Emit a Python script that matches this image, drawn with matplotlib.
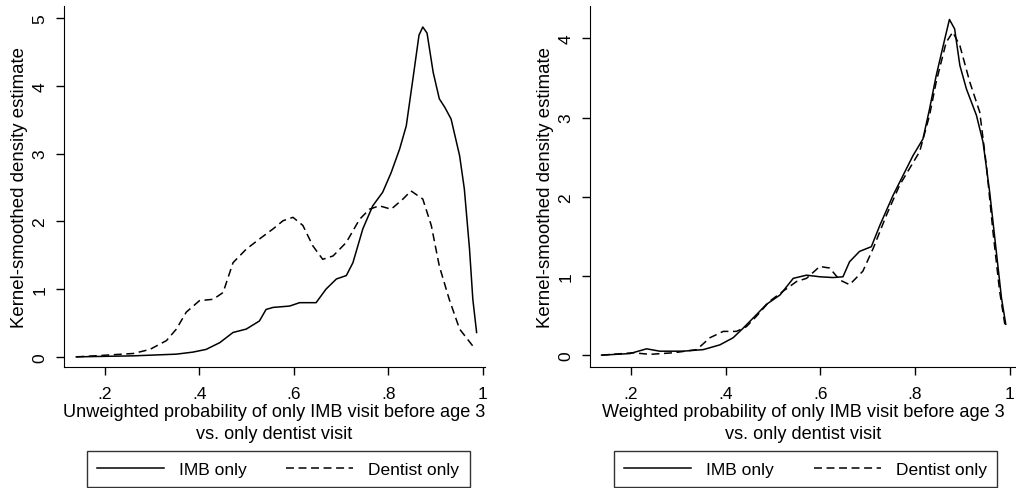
import matplotlib
matplotlib.use('Agg')
import matplotlib.pyplot as plt

plt.rcParams['font.family'] = ['Liberation Sans', 'DejaVu Sans']

# left panel: unweighted
unw_imb_x = [0.139, 0.26, 0.351, 0.386, 0.414, 0.443, 0.471, 0.499, 0.527, 0.541, 0.556,
             0.591, 0.612, 0.647, 0.668, 0.69, 0.711, 0.725, 0.746, 0.767, 0.788, 0.806,
             0.824, 0.838, 0.852, 0.865, 0.873, 0.882, 0.895, 0.908, 0.92, 0.933, 0.951,
             0.961, 0.972, 0.979, 0.987]
unw_imb_y = [0.0, 0.015, 0.04, 0.07, 0.11, 0.21, 0.36, 0.41, 0.53, 0.70, 0.73,
             0.75, 0.80, 0.80, 1.0, 1.15, 1.20, 1.39, 1.89, 2.23, 2.43, 2.72,
             3.07, 3.41, 4.1, 4.75, 4.87, 4.78, 4.2, 3.81, 3.68, 3.51, 2.97,
             2.48, 1.59, 0.85, 0.36]
unw_den_x = [0.139, 0.19, 0.26, 0.295, 0.33, 0.351, 0.372, 0.40, 0.429, 0.45, 0.471,
             0.499, 0.527, 0.556, 0.577, 0.598, 0.619, 0.64, 0.661, 0.683, 0.711, 0.739,
             0.76, 0.781, 0.806, 0.831, 0.848, 0.873, 0.891, 0.908, 0.929, 0.951, 0.979]
unw_den_y = [0.0, 0.02, 0.05, 0.11, 0.24, 0.41, 0.66, 0.83, 0.85, 0.95, 1.39,
             1.59, 1.74, 1.89, 2.01, 2.06, 1.94, 1.64, 1.44, 1.49, 1.69, 2.03,
             2.18, 2.23, 2.18, 2.33, 2.45, 2.33, 1.94, 1.34, 0.85, 0.41, 0.16]

# right panel: weighted
w_imb_x = [0.138, 0.198, 0.233, 0.261, 0.31, 0.353, 0.388, 0.416, 0.437, 0.465, 0.486,
           0.515, 0.543, 0.571, 0.599, 0.627, 0.648, 0.662, 0.683, 0.708, 0.726, 0.754,
           0.775, 0.796, 0.817, 0.831, 0.845, 0.863, 0.873, 0.884, 0.895, 0.909, 0.93,
           0.944, 0.958, 0.972, 0.983, 0.992]
w_imb_y = [0.0, 0.02, 0.08, 0.05, 0.05, 0.07, 0.13, 0.22, 0.34, 0.51, 0.64,
           0.76, 0.97, 1.01, 0.99, 0.98, 0.99, 1.18, 1.31, 1.37, 1.64, 2.02,
           2.27, 2.52, 2.73, 3.11, 3.53, 3.99, 4.24, 4.12, 3.66, 3.36, 3.03,
           2.69, 2.06, 1.31, 0.72, 0.39]
w_den_x = [0.138, 0.205, 0.24, 0.29, 0.339, 0.367, 0.395, 0.423, 0.444, 0.465, 0.493,
           0.522, 0.55, 0.571, 0.599, 0.62, 0.641, 0.662, 0.69, 0.712, 0.74, 0.768,
           0.789, 0.81, 0.831, 0.845, 0.866, 0.88, 0.895, 0.916, 0.937, 0.951, 0.965,
           0.979, 0.99]
w_den_y = [0.0, 0.03, 0.01, 0.03, 0.07, 0.22, 0.30, 0.30, 0.36, 0.49, 0.68,
           0.81, 0.93, 0.97, 1.12, 1.10, 0.95, 0.89, 1.06, 1.35, 1.77, 2.15,
           2.36, 2.57, 3.03, 3.45, 3.95, 4.08, 3.91, 3.45, 3.07, 2.40, 1.56,
           0.81, 0.39]

xticks = [0.2, 0.4, 0.6, 0.8, 1.0]
xticklabels = ['.2', '.4', '.6', '.8', '1']
series_labels = ['IMB only', 'Dentist only']
xlabels = ['Unweighted probability of only IMB visit before age 3\nvs. only dentist visit',
           'Weighted probability of only IMB visit before age 3\nvs. only dentist visit']

fig = plt.figure(figsize=(10.16, 4.89), dpi=100)
ax1 = fig.add_axes([0.063, 0.2474, 0.414, 0.7383])
ax2 = fig.add_axes([0.5807, 0.2474, 0.419, 0.7383])

panels = [
    (ax1, unw_imb_x, unw_imb_y, unw_den_x, unw_den_y, (0.113, 1.004), (-0.15, 5.18), range(6), xlabels[0], 0.509),
    (ax2, w_imb_x, w_imb_y, w_den_x, w_den_y, (0.1135, 1.013), (-0.15, 4.41), range(5), xlabels[1], 0.506),
]

for ax, ix, iy, dx, dy, xl, yl, yt, lab, legx in panels:
    ax.plot(ix, iy, color='black', lw=1.1, label=series_labels[0])
    ax.plot(dx, dy, color='black', lw=1.1, linestyle=(0, (5.2, 3)), label=series_labels[1])
    ax.set_xlim(*xl)
    ax.set_ylim(*yl)
    ax.set_xticks(xticks)
    ax.set_xticklabels(xticklabels)
    ax.set_yticks(list(yt))
    ax.set_yticklabels([str(v) for v in yt], rotation=90, va='center')
    ax.spines['top'].set_visible(False)
    ax.spines['right'].set_visible(False)
    ax.tick_params(direction='out', length=6, width=1, labelsize=12.5, pad=6)
    ax.tick_params(axis='x', pad=8)
    ax.set_xlabel(lab, fontsize=13.1, labelpad=1, linespacing=1.4)
    ax.set_ylabel('Kernel-smoothed density estimate', fontsize=13.4, labelpad=3)
    leg = ax.legend(loc='center', bbox_to_anchor=(legx, -0.283), ncol=2, fontsize=12.5,
                    frameon=True, fancybox=False, edgecolor='black', handlelength=3.85,
                    columnspacing=2.3, handletextpad=0.86, borderpad=0.6)
    leg.get_frame().set_linewidth(1.0)

fig.savefig('out.png', dpi=100)
